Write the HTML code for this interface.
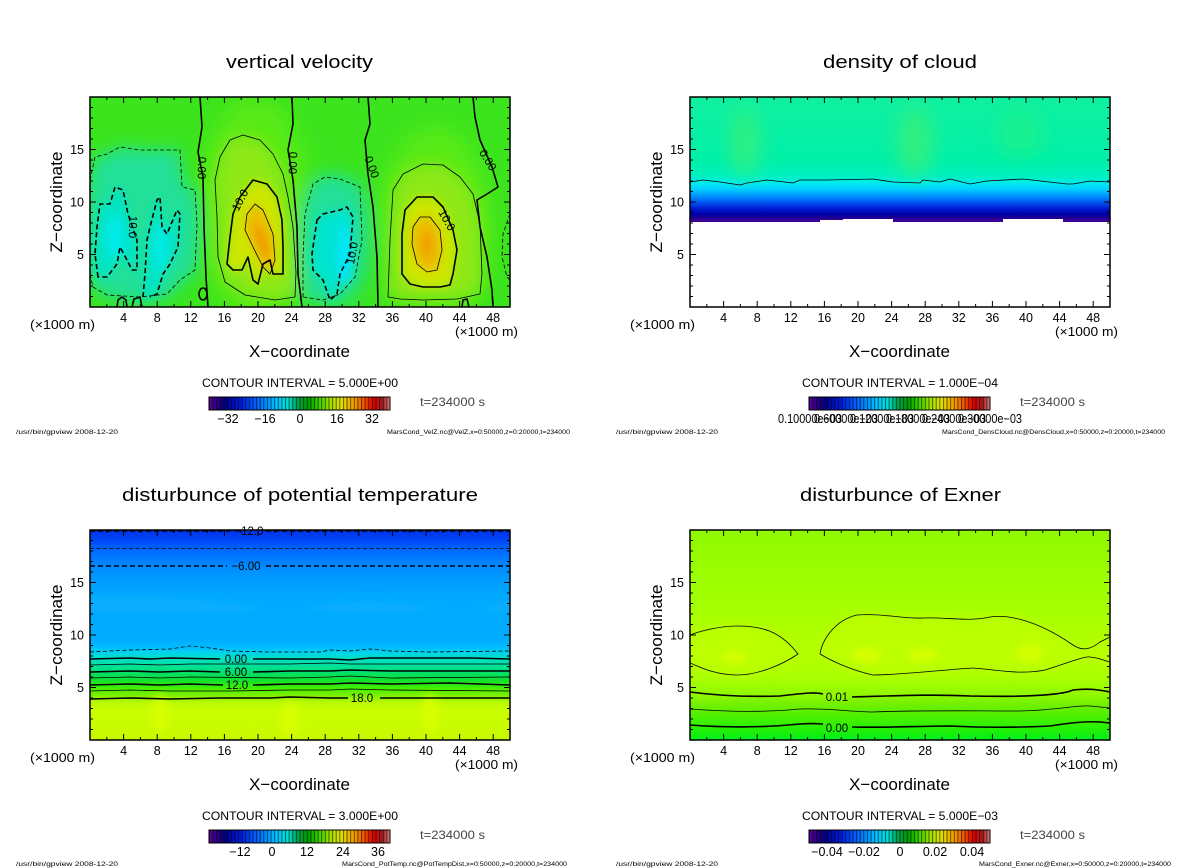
<!DOCTYPE html>
<html><head><meta charset="utf-8"><style>
html,body{margin:0;padding:0;background:#fff;}
svg{display:block;}
text{font-family:"Liberation Sans",sans-serif;fill:#000;}
.t{font-size:18px;}
.tk{font-size:12.5px;}
.ax{font-size:17px;}
.ci{font-size:12px;}
.ft{font-size:6.5px;}
.cl{font-size:11.5px;}
.k{fill:none;stroke:#000;stroke-width:1.6;stroke-linejoin:round;}
.n{fill:none;stroke:#000;stroke-width:0.8;stroke-linejoin:round;}
.kd{fill:none;stroke:#000;stroke-width:1.6;stroke-dasharray:5 3;stroke-linejoin:round;}
.nd{fill:none;stroke:#000;stroke-width:0.8;stroke-dasharray:4 2.5;stroke-linejoin:round;}
</style></head><body>
<svg width="1200" height="868" viewBox="0 0 1200 868" xmlns="http://www.w3.org/2000/svg">
<defs>
<clipPath id="fc"><rect x="0" y="0" width="420" height="210"/></clipPath>
<filter id="b3" x="-50%" y="-50%" width="200%" height="200%"><feGaussianBlur stdDeviation="3"/></filter>
<filter id="b4" x="-50%" y="-50%" width="200%" height="200%"><feGaussianBlur stdDeviation="4.5"/></filter>
<filter id="b5" x="-50%" y="-50%" width="200%" height="200%"><feGaussianBlur stdDeviation="5"/></filter>
<filter id="b8" x="-50%" y="-50%" width="200%" height="200%"><feGaussianBlur stdDeviation="8"/></filter>
<filter id="b10" x="-50%" y="-50%" width="200%" height="200%"><feGaussianBlur stdDeviation="10"/></filter>
<linearGradient id="cbg" x1="0" x2="1" y1="0" y2="0">
<stop offset="0" stop-color="#6000a0"/><stop offset="0.04" stop-color="#300080"/><stop offset="0.09" stop-color="#000088"/>
<stop offset="0.18" stop-color="#0020e0"/><stop offset="0.28" stop-color="#0070ff"/><stop offset="0.37" stop-color="#00c0ff"/>
<stop offset="0.44" stop-color="#00e0d0"/><stop offset="0.49" stop-color="#00a050"/><stop offset="0.55" stop-color="#00a000"/>
<stop offset="0.61" stop-color="#40d000"/><stop offset="0.67" stop-color="#a0e000"/><stop offset="0.73" stop-color="#e0e000"/>
<stop offset="0.80" stop-color="#f0a000"/><stop offset="0.86" stop-color="#f05000"/><stop offset="0.91" stop-color="#e00000"/>
<stop offset="0.96" stop-color="#a02020"/><stop offset="1" stop-color="#e08080"/>
</linearGradient>
<pattern id="stp" patternUnits="userSpaceOnUse" x="209" y="0" width="3.62" height="20"><rect width="1" height="20" fill="#000" fill-opacity="0.55"/></pattern>
<g id="cb">
<rect x="209" y="397" width="181" height="13" fill="url(#cbg)"/>
<rect x="209" y="397" width="181" height="13" fill="url(#stp)"/>
<rect x="209" y="397" width="181" height="13" fill="none" stroke="#000" stroke-width="1"/>
</g>
<path id="tk" fill="none" stroke="#000" stroke-width="1" d="M16.8 210v-3M33.6 210v-6M50.4 210v-3M67.2 210v-6M84 210v-3M100.8 210v-6M117.6 210v-3M134.4 210v-6M151.2 210v-3M168 210v-6M184.8 210v-3M201.6 210v-6M218.4 210v-3M235.2 210v-6M252 210v-3M268.8 210v-6M285.6 210v-3M302.4 210v-6M319.2 210v-3M336 210v-6M352.8 210v-3M369.6 210v-6M386.4 210v-3M403.2 210v-6
M16.8 0v3M33.6 0v6M50.4 0v3M67.2 0v6M84 0v3M100.8 0v6M117.6 0v3M134.4 0v6M151.2 0v3M168 0v6M184.8 0v3M201.6 0v6M218.4 0v3M235.2 0v6M252 0v3M268.8 0v6M285.6 0v3M302.4 0v6M319.2 0v3M336 0v6M352.8 0v3M369.6 0v6M386.4 0v3M403.2 0v6
M0 199.5h3M0 189h3M0 178.5h3M0 168h3M0 157.5h6M0 147h3M0 136.5h3M0 126h3M0 115.5h3M0 105h6M0 94.5h3M0 84h3M0 73.5h3M0 63h3M0 52.5h6M0 42h3M0 31.5h3M0 21h3M0 10.5h3
M420 199.5h-3M420 189h-3M420 178.5h-3M420 168h-3M420 157.5h-6M420 147h-3M420 136.5h-3M420 126h-3M420 115.5h-3M420 105h-6M420 94.5h-3M420 84h-3M420 73.5h-3M420 63h-3M420 52.5h-6M420 42h-3M420 31.5h-3M420 21h-3M420 10.5h-3"/>
<linearGradient id="g2" gradientUnits="userSpaceOnUse" x1="0" y1="0" x2="0" y2="126">
<stop offset="0" stop-color="#10f0a0"/><stop offset="0.5" stop-color="#00f0a8"/><stop offset="0.63" stop-color="#00f0c0"/>
<stop offset="0.68" stop-color="#00ecec"/><stop offset="0.73" stop-color="#00d0ff"/><stop offset="0.79" stop-color="#0090ff"/>
<stop offset="0.84" stop-color="#0050f0"/><stop offset="0.89" stop-color="#0018d0"/><stop offset="0.93" stop-color="#0000a8"/>
<stop offset="0.96" stop-color="#200090"/><stop offset="1" stop-color="#5000a0"/>
</linearGradient>
<linearGradient id="g3" gradientUnits="userSpaceOnUse" x1="0" y1="0" x2="0" y2="210">
<stop offset="0" stop-color="#0030e8"/><stop offset="0.048" stop-color="#0048f8"/><stop offset="0.095" stop-color="#0068ff"/>
<stop offset="0.167" stop-color="#0088ff"/><stop offset="0.238" stop-color="#009cff"/><stop offset="0.31" stop-color="#00a8ff"/>
<stop offset="0.52" stop-color="#00acff"/><stop offset="0.56" stop-color="#00bcff"/><stop offset="0.58" stop-color="#00d0f0"/>
<stop offset="0.61" stop-color="#00e0c8"/><stop offset="0.643" stop-color="#00e0a0"/><stop offset="0.676" stop-color="#00e070"/>
<stop offset="0.714" stop-color="#10e030"/><stop offset="0.752" stop-color="#40f000"/><stop offset="0.79" stop-color="#80f000"/>
<stop offset="0.82" stop-color="#b8f800"/><stop offset="0.857" stop-color="#c8ff00"/><stop offset="1" stop-color="#c8f800"/>
</linearGradient>
<linearGradient id="g4" gradientUnits="userSpaceOnUse" x1="0" y1="0" x2="0" y2="210">
<stop offset="0" stop-color="#90f800"/><stop offset="0.15" stop-color="#98fc00"/><stop offset="0.3" stop-color="#a0ff00"/>
<stop offset="0.45" stop-color="#acff00"/><stop offset="0.62" stop-color="#b4ff00"/><stop offset="0.71" stop-color="#a8ff00"/>
<stop offset="0.786" stop-color="#90f800"/><stop offset="0.833" stop-color="#70f000"/><stop offset="0.88" stop-color="#50f000"/>
<stop offset="0.93" stop-color="#30f000"/><stop offset="0.976" stop-color="#10f010"/><stop offset="1" stop-color="#00f020"/>
</linearGradient>
</defs>
<rect width="1200" height="868" fill="#fff"/>

<!-- ================= PANEL 1 ================= -->
<g>
<text class="t" x="226" y="68" textLength="147" lengthAdjust="spacingAndGlyphs">vertical velocity</text>
<g transform="translate(90,97)">
<g clip-path="url(#fc)">
<rect width="420" height="210" fill="#3ce41e"/>
<g filter="url(#b10)"><ellipse cx="165" cy="110" rx="55" ry="110" fill="#58ea14"/><ellipse cx="345" cy="125" rx="55" ry="95" fill="#58ea14"/>
<ellipse cx="50" cy="135" rx="55" ry="70" fill="#22e080"/><ellipse cx="245" cy="145" rx="35" ry="65" fill="#22e080"/></g>
<g filter="url(#b8)">
<path fill="#20e098" d="M0 83L5 60L17 57L30 50L50 53L63 53L90 53L92 90L105 93L107 127L105 173L90 183L77 197L50 200L17 198L3 190L0 177Z"/>
<path fill="#20e098" d="M213 200L213 160L215 117L223 87L235 80L250 82L270 90L272 143L265 180L250 197L233 203Z"/>
<path fill="#8ee814" d="M128 160L127 120L125 83L130 60L140 43L153 38L170 43L183 57L193 77L198 100L203 130L206 175L205 200L185 203L155 198L135 185Z"/>
<path fill="#8ee814" d="M298 200L300 143L303 93L313 77L333 67L353 68L370 80L383 97L390 127L392 177L390 197L367 202L333 203L310 202Z"/>
</g>
<g filter="url(#b4)">
<path fill="#00e4c4" d="M8 180L5 157L7 130L10 107L20 107L25 90L33 93L38 117L47 143L47 173L42 173L37 163L30 150L27 167L17 180Z"/>
<path fill="#00e4c4" d="M53 200L55 177L57 143L60 130L67 103L70 100L72 130L77 137L87 113L90 117L88 150L80 167L73 177L67 197L60 200Z"/>
<path fill="#00e4d0" d="M227 123L233 117L250 113L257 110L263 120L260 157L250 177L247 197L240 203L233 183L223 173L222 157Z"/>
<ellipse cx="25" cy="140" rx="10" ry="22" fill="#00eae6"/>
<ellipse cx="70" cy="150" rx="7" ry="25" fill="#00eae6"/>
<ellipse cx="255" cy="158" rx="8" ry="30" fill="#00e6f8"/>
<path fill="#cce600" d="M137 167L140 140L143 117L150 100L163 83L177 87L187 100L192 123L193 150L193 177L183 177L180 163L173 167L168 187L163 183L158 160L152 173L143 173Z"/>
<path fill="#cce600" d="M312 177L312 137L315 113L327 100L343 100L353 110L363 133L367 153L363 177L360 188L350 190L333 190L320 187Z"/>
<path fill="#ecbc00" d="M157 117L165 107L173 113L183 137L185 163L180 177L173 170L163 150L155 133Z"/>
<path fill="#ecbc00" d="M323 130L330 120L340 120L350 133L352 153L347 173L337 175L327 167L322 147Z"/>
<ellipse cx="172" cy="145" rx="6" ry="18" fill="#f09c00" transform="rotate(-20 172 145)"/>
<ellipse cx="337" cy="148" rx="5" ry="14" fill="#f09c00"/>
</g>
<!-- contours -->
<path class="nd" d="M0 83L5 60L17 57L30 50L50 53L63 53L90 53L92 90L105 93L107 127L105 173L90 183L77 197L50 200L17 198L3 190L0 177"/>
<path class="kd" d="M8 180L5 157L7 130L10 107L20 107L25 90L33 93L38 117L47 143L47 173L42 173L37 163L30 150L27 167L17 180Z"/>
<path class="kd" d="M53 200L55 177L57 143L60 130L67 103L70 100L72 130L77 137L87 113L90 117L88 150L80 167L73 177L67 197L60 200"/>
<path class="nd" d="M213 200L213 160L215 117L223 87L235 80L250 82L270 90L272 143L265 180L250 197L233 203Z"/>
<path class="kd" d="M227 123L233 117L250 113L257 110L263 120L260 157L250 177L247 197L240 203L233 183L223 173L222 157Z"/>
<path class="nd" d="M420 117L413 137L412 160L417 180L420 183"/>
<path class="n" d="M128 160L127 120L125 83L130 60L140 43L153 38L170 43L183 57L193 77L198 100L203 130L206 175L205 200L185 203L155 198L135 185Z"/>
<path class="k" d="M137 167L140 140L143 117L150 100L163 83L177 87L187 100L192 123L193 150L193 177L183 177L180 163L173 167L168 187L163 183L158 160L152 173L143 173Z"/>
<path class="n" d="M157 117L165 107L173 113L183 137L185 163L180 177L173 170L163 150L155 133Z"/>
<path class="n" d="M298 200L300 143L303 93L313 77L333 67L353 68L370 80L383 97L390 127L392 177L390 197L367 202L333 203L310 202Z"/>
<path class="k" d="M312 177L312 137L315 113L327 100L343 100L353 110L363 133L367 153L363 177L360 188L350 190L333 190L320 187Z"/>
<path class="n" d="M323 130L330 120L340 120L350 133L352 153L347 173L337 175L327 167L322 147Z"/>
<path class="k" d="M110 0L112 30L108 55L113 80L114 130L116 180L118 210"/>
<path class="k" d="M202 0L203 27L198 53L203 83L207 130L208 177L212 210"/>
<path class="k" d="M278 0L280 27L275 43L278 77L283 110L287 160L288 210"/>
<path class="k" d="M383 0L385 20L390 43L402 70L408 90L397 97L387 103L390 130L397 160L402 193L403 210"/>
<ellipse class="k" cx="113" cy="197" rx="4" ry="6"/>
<path class="k" d="M27 210L28 203L32 200L36 203L37 210M42 210L44 202L50 200L52 210M372 210L373 203L377 202L379 210"/>
</g>
<rect x="0" y="0" width="420" height="210" fill="none" stroke="#000" stroke-width="1.5"/>
<use href="#tk"/>
</g>
<text class="cl" transform="translate(202,168) rotate(92)" text-anchor="middle" dy="4">0.00</text>
<text class="cl" transform="translate(293,163) rotate(92)" text-anchor="middle" dy="4">0.00</text>
<text class="cl" transform="translate(372,167) rotate(70)" text-anchor="middle" dy="4">0.00</text>
<text class="cl" transform="translate(488,160) rotate(58)" text-anchor="middle" dy="4">0.00</text>
<text class="cl" transform="translate(240,200) rotate(-62)" text-anchor="middle" dy="4">10.0</text>
<text class="cl" transform="translate(133,227) rotate(92)" text-anchor="middle" dy="4">10.0</text>
<text class="cl" transform="translate(352,253) rotate(-80)" text-anchor="middle" dy="4">10.0</text>
<text class="cl" transform="translate(447,220) rotate(60)" text-anchor="middle" dy="4">10.0</text>
<g text-anchor="middle">
<text class="tk" x="123.6" y="322">4</text><text class="tk" x="157.2" y="322">8</text><text class="tk" x="190.8" y="322">12</text><text class="tk" x="224.4" y="322">16</text><text class="tk" x="258" y="322">20</text><text class="tk" x="291.6" y="322">24</text><text class="tk" x="325.2" y="322">28</text><text class="tk" x="358.8" y="322">32</text><text class="tk" x="392.4" y="322">36</text><text class="tk" x="426" y="322">40</text><text class="tk" x="459.6" y="322">44</text><text class="tk" x="493.2" y="322">48</text>
</g>
<g text-anchor="end"><text class="tk" x="84" y="154">15</text><text class="tk" x="84" y="206.5">10</text><text class="tk" x="84" y="259">5</text></g>
<text class="tk" x="30" y="329" textLength="65" lengthAdjust="spacingAndGlyphs">(×1000 m)</text>
<text class="tk" x="455" y="336" textLength="63" lengthAdjust="spacingAndGlyphs">(×1000 m)</text>
<text class="ax" x="249" y="357" textLength="101" lengthAdjust="spacingAndGlyphs">X−coordinate</text>
<text class="ax" transform="translate(62,202) rotate(-90)" text-anchor="middle" textLength="101" lengthAdjust="spacingAndGlyphs">Z−coordinate</text>
<text class="ci" x="202" y="387" textLength="196" lengthAdjust="spacingAndGlyphs">CONTOUR INTERVAL = 5.000E+00</text>
<use href="#cb"/>
<g text-anchor="middle"><text class="tk" x="228" y="423">−32</text><text class="tk" x="265" y="423">−16</text><text class="tk" x="300" y="423">0</text><text class="tk" x="337" y="423">16</text><text class="tk" x="372" y="423">32</text></g>
<text class="ci" x="420" y="406" textLength="65" lengthAdjust="spacingAndGlyphs" style="fill:#444">t=234000 s</text>
<text class="ft" x="16" y="434" textLength="102" lengthAdjust="spacingAndGlyphs">/usr/bin/gpview   2008-12-20</text>
<text class="ft" x="387" y="434" textLength="183" lengthAdjust="spacingAndGlyphs">MarsCond_VelZ.nc@VelZ,x=0:50000,z=0:20000,t=234000</text>
</g>

<!-- ================= PANEL 2 ================= -->
<g transform="translate(600,0)">
<text class="t" x="223" y="68" textLength="154" lengthAdjust="spacingAndGlyphs">density of cloud</text>
<g transform="translate(90,97)">
<g clip-path="url(#fc)">
<rect width="420" height="127" fill="url(#g2)"/>
<g filter="url(#b10)"><ellipse cx="55" cy="45" rx="14" ry="35" fill="#30f080"/><ellipse cx="225" cy="45" rx="18" ry="35" fill="#30f080"/><ellipse cx="330" cy="35" rx="25" ry="25" fill="#18f090"/></g>
<path d="M0 125H130V123H153V122H203V125H313V122H373V125H420V210H0Z" fill="#fff"/>
<path class="n" d="M0 85L13 83L30 85L50 88L57 86L77 83L103 86L110 83L137 83L183 82L203 85L230 86L233 83L250 85L260 82L280 87L297 84L333 82L377 87L383 87L400 84L420 85"/>
</g>
<rect x="0" y="0" width="420" height="210" fill="none" stroke="#000" stroke-width="1.5"/>
<use href="#tk"/>
</g>
<g text-anchor="middle">
<text class="tk" x="123.6" y="322">4</text><text class="tk" x="157.2" y="322">8</text><text class="tk" x="190.8" y="322">12</text><text class="tk" x="224.4" y="322">16</text><text class="tk" x="258" y="322">20</text><text class="tk" x="291.6" y="322">24</text><text class="tk" x="325.2" y="322">28</text><text class="tk" x="358.8" y="322">32</text><text class="tk" x="392.4" y="322">36</text><text class="tk" x="426" y="322">40</text><text class="tk" x="459.6" y="322">44</text><text class="tk" x="493.2" y="322">48</text>
</g>
<g text-anchor="end"><text class="tk" x="84" y="154">15</text><text class="tk" x="84" y="206.5">10</text><text class="tk" x="84" y="259">5</text></g>
<text class="tk" x="30" y="329" textLength="65" lengthAdjust="spacingAndGlyphs">(×1000 m)</text>
<text class="tk" x="455" y="336" textLength="63" lengthAdjust="spacingAndGlyphs">(×1000 m)</text>
<text class="ax" x="249" y="357" textLength="101" lengthAdjust="spacingAndGlyphs">X−coordinate</text>
<text class="ax" transform="translate(62,202) rotate(-90)" text-anchor="middle" textLength="101" lengthAdjust="spacingAndGlyphs">Z−coordinate</text>
<text class="ci" x="202" y="387" textLength="196" lengthAdjust="spacingAndGlyphs">CONTOUR INTERVAL = 1.000E−04</text>
<use href="#cb"/>
<text class="tk" x="178" y="423" textLength="64" lengthAdjust="spacingAndGlyphs">0.10000e−03</text>
<text class="tk" x="214" y="423" textLength="64" lengthAdjust="spacingAndGlyphs">0.60000e−03</text>
<text class="tk" x="250" y="423" textLength="64" lengthAdjust="spacingAndGlyphs">0.12000e−03</text>
<text class="tk" x="286" y="423" textLength="64" lengthAdjust="spacingAndGlyphs">0.18000e−03</text>
<text class="tk" x="322" y="423" textLength="64" lengthAdjust="spacingAndGlyphs">0.24000e−03</text>
<text class="tk" x="358" y="423" textLength="64" lengthAdjust="spacingAndGlyphs">0.30000e−03</text>
<text class="ci" x="420" y="406" textLength="65" lengthAdjust="spacingAndGlyphs" style="fill:#444">t=234000 s</text>
<text class="ft" x="16" y="434" textLength="102" lengthAdjust="spacingAndGlyphs">/usr/bin/gpview   2008-12-20</text>
<text class="ft" x="342" y="434" textLength="223" lengthAdjust="spacingAndGlyphs">MarsCond_DensCloud.nc@DensCloud,x=0:50000,z=0:20000,t=234000</text>
</g>

<!-- ================= PANEL 3 ================= -->
<g transform="translate(0,433)">
<text class="t" x="122" y="68" textLength="356" lengthAdjust="spacingAndGlyphs">disturbunce of potential temperature</text>
<g transform="translate(90,97)">
<g clip-path="url(#fc)">
<rect width="420" height="210" fill="url(#g3)"/>
<g filter="url(#b5)">
<path d="M0 68C60 66 120 70 170 76C200 80 230 74 260 72C300 70 330 76 370 77C400 77 420 70 420 70V82H0Z" fill="#10b4ff" opacity="0.6"/>
<ellipse cx="70" cy="185" rx="8" ry="20" fill="#d8ff00"/>
<ellipse cx="200" cy="190" rx="10" ry="18" fill="#d8ff00"/>
<ellipse cx="340" cy="185" rx="9" ry="20" fill="#d8ff00"/>
</g>
<path class="kd" d="M0 1H140M176 1H420"/>
<path class="nd" d="M0 18.5H420"/>
<path class="kd" d="M0 36H137M176 36H420"/>
<path class="nd" d="M0 122L40 120L80 119L100 116L120 118L140 121L180 122L230 122L240 120L260 121L280 119L300 121L340 122L420 121"/>
<path class="k" d="M0 129L40 128L60 129L80 128L130 129M163 129L200 129L240 129L260 130L280 128L320 128L380 128L420 129"/>
<path class="n" d="M0 135L40 134L70 135L100 134L200 134L240 133L260 134L300 134L420 134"/>
<path class="k" d="M0 142L40 141L70 142L100 141L130 142M163 142L200 141L240 141L260 140L300 141L420 141"/>
<path class="n" d="M0 148L40 147L70 148L100 147L200 148L240 147L260 146L300 148L420 147"/>
<path class="k" d="M0 155L40 154L70 155L100 154L133 155M163 155L200 154L240 154L260 153L300 154L360 153L420 155"/>
<path class="n" d="M0 161L40 160L80 161L140 161L200 160L240 160L260 159L300 160L420 161"/>
<path class="k" d="M0 169L40 168L80 169L130 168L180 168L200 167L240 168L258 168M290 168L340 168L420 168"/>
</g>
<rect x="0" y="0" width="420" height="210" fill="none" stroke="#000" stroke-width="1.5"/>
<use href="#tk"/>
</g>
<text class="cl" x="249" y="102" text-anchor="middle">−12.0</text>
<text class="cl" x="246" y="137" text-anchor="middle">−6.00</text>
<text class="cl" x="236" y="230" text-anchor="middle">0.00</text>
<text class="cl" x="236" y="243" text-anchor="middle">6.00</text>
<text class="cl" x="237" y="256" text-anchor="middle">12.0</text>
<text class="cl" x="362" y="269" text-anchor="middle">18.0</text>
<g text-anchor="middle">
<text class="tk" x="123.6" y="322">4</text><text class="tk" x="157.2" y="322">8</text><text class="tk" x="190.8" y="322">12</text><text class="tk" x="224.4" y="322">16</text><text class="tk" x="258" y="322">20</text><text class="tk" x="291.6" y="322">24</text><text class="tk" x="325.2" y="322">28</text><text class="tk" x="358.8" y="322">32</text><text class="tk" x="392.4" y="322">36</text><text class="tk" x="426" y="322">40</text><text class="tk" x="459.6" y="322">44</text><text class="tk" x="493.2" y="322">48</text>
</g>
<g text-anchor="end"><text class="tk" x="84" y="154">15</text><text class="tk" x="84" y="206.5">10</text><text class="tk" x="84" y="259">5</text></g>
<text class="tk" x="30" y="329" textLength="65" lengthAdjust="spacingAndGlyphs">(×1000 m)</text>
<text class="tk" x="455" y="336" textLength="63" lengthAdjust="spacingAndGlyphs">(×1000 m)</text>
<text class="ax" x="249" y="357" textLength="101" lengthAdjust="spacingAndGlyphs">X−coordinate</text>
<text class="ax" transform="translate(62,202) rotate(-90)" text-anchor="middle" textLength="101" lengthAdjust="spacingAndGlyphs">Z−coordinate</text>
<text class="ci" x="202" y="387" textLength="196" lengthAdjust="spacingAndGlyphs">CONTOUR INTERVAL = 3.000E+00</text>
<use href="#cb"/>
<g text-anchor="middle"><text class="tk" x="240" y="423">−12</text><text class="tk" x="272" y="423">0</text><text class="tk" x="307" y="423">12</text><text class="tk" x="343" y="423">24</text><text class="tk" x="378" y="423">36</text></g>
<text class="ci" x="420" y="406" textLength="65" lengthAdjust="spacingAndGlyphs" style="fill:#444">t=234000 s</text>
<text class="ft" x="16" y="433" textLength="102" lengthAdjust="spacingAndGlyphs">/usr/bin/gpview   2008-12-20</text>
<text class="ft" x="342" y="433" textLength="225" lengthAdjust="spacingAndGlyphs">MarsCond_PotTemp.nc@PotTempDist,x=0:50000,z=0:20000,t=234000</text>
</g>

<!-- ================= PANEL 4 ================= -->
<g transform="translate(600,433)">
<text class="t" x="200" y="68" textLength="201" lengthAdjust="spacingAndGlyphs">disturbunce of Exner</text>
<g transform="translate(90,97)">
<g clip-path="url(#fc)">
<rect width="420" height="210" fill="url(#g4)"/>
<g filter="url(#b5)">
<path fill="#bcff00" d="M0 105C10 101 30 96 47 96C70 96 90 100 108 124C95 133 70 145 47 145C25 145 10 137 0 133Z"/>
<path fill="#bcff00" d="M130 124C132 110 145 90 167 85C190 83 215 89 233 88C255 87 280 92 300 87C320 84 350 92 383 115C392 121 400 120 410 112L420 107V132C415 131 410 128 400 127C395 126 380 132 355 140C330 145 310 140 283 138C250 140 210 145 183 145C160 140 140 130 130 124Z"/>
</g>
<g filter="url(#b3)">
<ellipse cx="45" cy="127" rx="12" ry="6" fill="#d4ff00"/>
<ellipse cx="177" cy="125" rx="15" ry="8" fill="#d4ff00"/>
<ellipse cx="233" cy="125" rx="15" ry="7" fill="#d4ff00"/>
<ellipse cx="340" cy="123" rx="13" ry="9" fill="#d4ff00"/>
</g>
<path class="n" d="M0 105C10 101 30 96 47 96C70 96 90 100 108 124C95 133 70 145 47 145C25 145 10 137 0 133"/>
<path class="n" d="M130 124C132 110 145 90 167 85C190 83 215 89 233 88C255 87 280 92 300 87C320 84 350 92 383 115C392 121 400 120 410 112L420 107M130 124C140 130 160 140 183 145C210 145 250 140 283 138C310 140 330 145 355 140C380 132 395 126 400 127C410 128 415 131 420 132"/>
<path class="k" d="M0 162C30 166 60 167 90 166C115 163 125 162 133 164M162 167C200 166 240 164 280 166C330 167 370 166 383 160C400 158 410 160 420 162"/>
<path class="n" d="M0 179C40 182 80 182 110 179C140 178 160 182 183 182C230 180 280 181 330 181C370 180 385 175 400 176L420 178"/>
<path class="k" d="M0 195C40 198 80 197 110 194C125 193 130 194 133 194M162 197C200 198 230 196 260 196C300 198 340 197 360 196C380 193 395 191 410 192L420 193"/>
</g>
<rect x="0" y="0" width="420" height="210" fill="none" stroke="#000" stroke-width="1.5"/>
<use href="#tk"/>
</g>
<text class="cl" x="237" y="268" text-anchor="middle">0.01</text>
<text class="cl" x="237" y="299" text-anchor="middle">0.00</text>
<g text-anchor="middle">
<text class="tk" x="123.6" y="322">4</text><text class="tk" x="157.2" y="322">8</text><text class="tk" x="190.8" y="322">12</text><text class="tk" x="224.4" y="322">16</text><text class="tk" x="258" y="322">20</text><text class="tk" x="291.6" y="322">24</text><text class="tk" x="325.2" y="322">28</text><text class="tk" x="358.8" y="322">32</text><text class="tk" x="392.4" y="322">36</text><text class="tk" x="426" y="322">40</text><text class="tk" x="459.6" y="322">44</text><text class="tk" x="493.2" y="322">48</text>
</g>
<g text-anchor="end"><text class="tk" x="84" y="154">15</text><text class="tk" x="84" y="206.5">10</text><text class="tk" x="84" y="259">5</text></g>
<text class="tk" x="30" y="329" textLength="65" lengthAdjust="spacingAndGlyphs">(×1000 m)</text>
<text class="tk" x="455" y="336" textLength="63" lengthAdjust="spacingAndGlyphs">(×1000 m)</text>
<text class="ax" x="249" y="357" textLength="101" lengthAdjust="spacingAndGlyphs">X−coordinate</text>
<text class="ax" transform="translate(62,202) rotate(-90)" text-anchor="middle" textLength="101" lengthAdjust="spacingAndGlyphs">Z−coordinate</text>
<text class="ci" x="202" y="387" textLength="196" lengthAdjust="spacingAndGlyphs">CONTOUR INTERVAL = 5.000E−03</text>
<use href="#cb"/>
<g text-anchor="middle"><text class="tk" x="227" y="423">−0.04</text><text class="tk" x="264" y="423">−0.02</text><text class="tk" x="300" y="423">0</text><text class="tk" x="335" y="423">0.02</text><text class="tk" x="372" y="423">0.04</text></g>
<text class="ci" x="420" y="406" textLength="65" lengthAdjust="spacingAndGlyphs" style="fill:#444">t=234000 s</text>
<text class="ft" x="16" y="433" textLength="102" lengthAdjust="spacingAndGlyphs">/usr/bin/gpview   2008-12-20</text>
<text class="ft" x="379" y="433" textLength="192" lengthAdjust="spacingAndGlyphs">MarsCond_Exner.nc@Exner,x=0:50000,z=0:20000,t=234000</text>
</g>
</svg>
</body></html>
